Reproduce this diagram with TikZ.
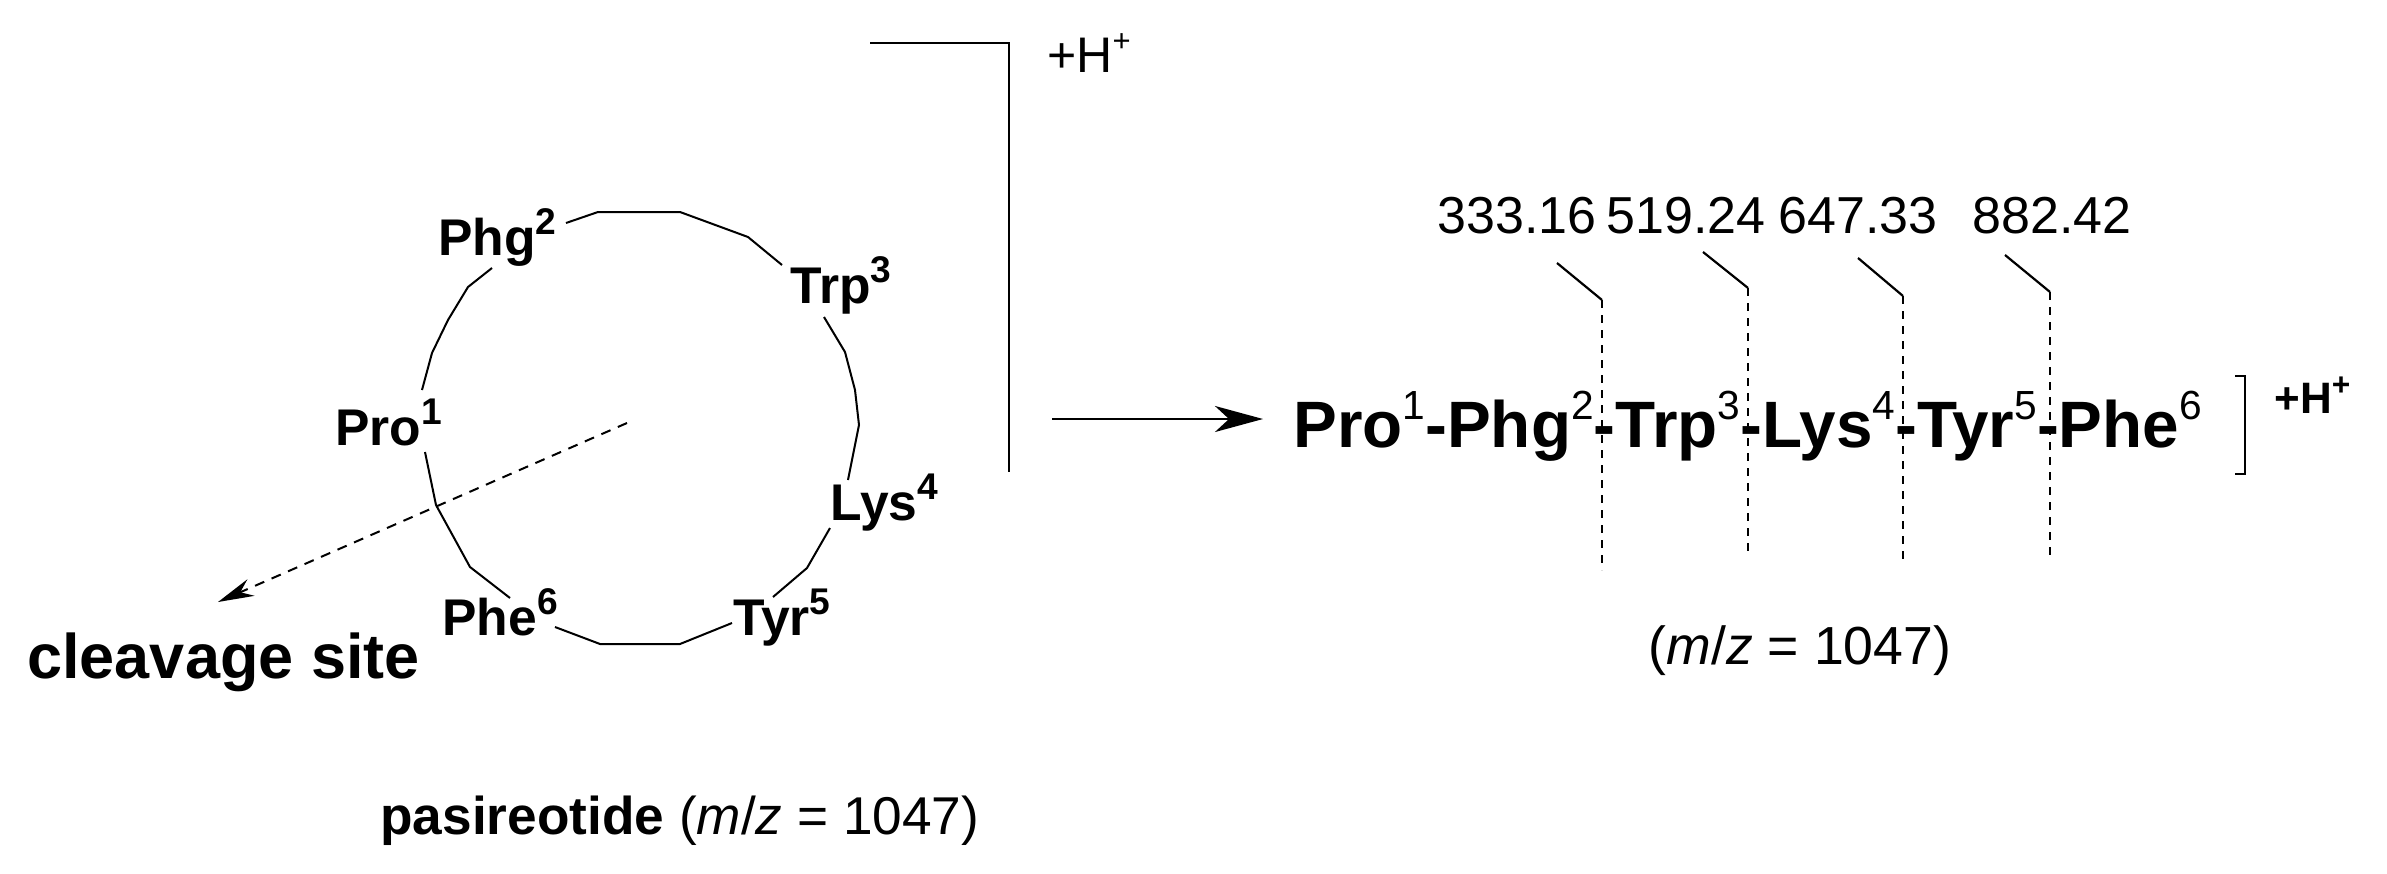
\documentclass[tikz,border=0pt]{standalone}
\usepackage{fontspec}
\setmainfont{Liberation Sans}
\usepackage{graphicx}
\usetikzlibrary{arrows.meta}
\newcommand{\supB}[1]{\raisebox{0.40em}{\scalebox{0.72}{#1}}}
\newcommand{\supR}[1]{\raisebox{0.42em}{\scalebox{0.62}{\mdseries #1}}}
\begin{document}
\begin{tikzpicture}[x=0.5pt,y=-0.5pt,
  lbl/.style={inner sep=0pt, anchor=base west, font=\fontsize{25.8}{30}\selectfont\bfseries},
  seqtxt/.style={inner sep=0pt, anchor=base west, font=\fontsize{32.8}{38}\selectfont\bfseries},
  num/.style={inner sep=0pt, anchor=base, font=\fontsize{26}{30}\selectfont},
  ring/.style={line width=1pt, line join=round},
  frag/.style={line width=1.1pt},
  fragdash/.style={line width=1.1pt, dash pattern=on 4pt off 3.5pt},
  brk/.style={line width=1.3pt},
]
\useasboundingbox (0,0) rectangle (2387,873);

% ring labels
\node[lbl] (phg) at (438,255) {Phg\supB{2}};
\node[lbl] (trp) at (790,303) {Trp\supB{3}};
\node[lbl] (pro) at (335,445) {Pro\supB{1}};
\node[lbl] (lys) at (830,520) {Lys\supB{4}};
\node[lbl] (phe) at (442,635) {Phe\supB{6}};
\node[lbl] (tyr) at (733,635) {Tyr\supB{5}};

% ring bonds
\draw[ring] (566,223) -- (598,212) -- (680,212) -- (748,237) -- (782,265);
\draw[ring] (824,317) -- (845,352) -- (855,390) -- (859,425) -- (848,480);
\draw[ring] (830,528) -- (807,568) -- (773,597);
\draw[ring] (732,623) -- (680,644) -- (600,644) -- (555,627);
\draw[ring] (510,598) -- (470,567) -- (436,505) -- (425,452);
\draw[ring] (422,390) -- (432,353) -- (448,320) -- (468,287) -- (492,268);

% cleavage
\node[inner sep=0pt, anchor=base west, font=\fontsize{31.5}{36}\selectfont\bfseries] (clv) at (27,678) {cleavage site};
\coordinate (ctr) at (627,423);
\coordinate (cltip) at (218,602);
\draw[line width=1pt, dash pattern=on 5pt off 4pt, -{Stealth[length=18pt,width=9pt]}] (ctr) -- (cltip);

% caption left
\node[inner sep=0pt, anchor=base west, font=\fontsize{26.6}{30}\selectfont] (pas) at (380,834) {\textbf{pasireotide} (\textit{m}/\textit{z} = 1047)};

% bracket left
\coordinate (brtl) at (870,43);
\coordinate (brtr) at (1009,43);
\coordinate (brb) at (1009,472);
\draw[brk] (brtl) -- (brtr) -- (brb);
\node[inner sep=0pt, anchor=base west, font=\fontsize{25}{30}\selectfont] (hp1) at (1047,72) {+H\supR{+}};

% reaction arrow
\coordinate (arrS) at (1052,419);
\coordinate (arrE) at (1263,419);
\draw[line width=1.3pt, -{Stealth[length=24pt,width=13pt,inset=7pt]}] (arrS) -- (arrE);

% linear sequence
\node[seqtxt] (seq) at (1293,447) {Pro\supR{1}-Phg\supR{2}-Trp\supR{3}-Lys\supR{4}-Tyr\supR{5}-Phe\supR{6}};
\coordinate (rbt) at (2245,376);
\coordinate (rbb) at (2245,474);
\draw[line width=1.1pt] ([xshift=-5]rbt) -- (rbt) -- (rbb) -- ([xshift=-5]rbb);
\node[inner sep=0pt, anchor=base west, font=\fontsize{22}{26}\selectfont\bfseries] (hp2) at (2274,413) {+H\supB{+}};

% fragment masses
\node[num] (n1) at (1517,233) {333.16};
\node[num] (n2) at (1686,233) {519.24};
\node[num] (n3) at (1858,233) {647.33};
\node[num] (n4) at (2052,233) {882.42};
\foreach \i/\xa/\ya/\xb/\yb/\ye in {1/1557/263/1602/300/570, 2/1703/252/1748/288/557, 3/1858/258/1903/296/565, 4/2005/255/2050/292/561} {
  \coordinate (s\i) at (\xa,\ya);
  \coordinate (k\i) at (\xb,\yb);
  \coordinate (e\i) at (\xb,\ye);
  \draw[frag] (s\i) -- (k\i);
  \draw[fragdash] (k\i) -- (e\i);
}

\node[inner sep=0pt, anchor=base, font=\fontsize{26.8}{30}\selectfont] (mz) at (1800,664) {(\textit{m}/\textit{z} = 1047)};
\end{tikzpicture}
\end{document}
